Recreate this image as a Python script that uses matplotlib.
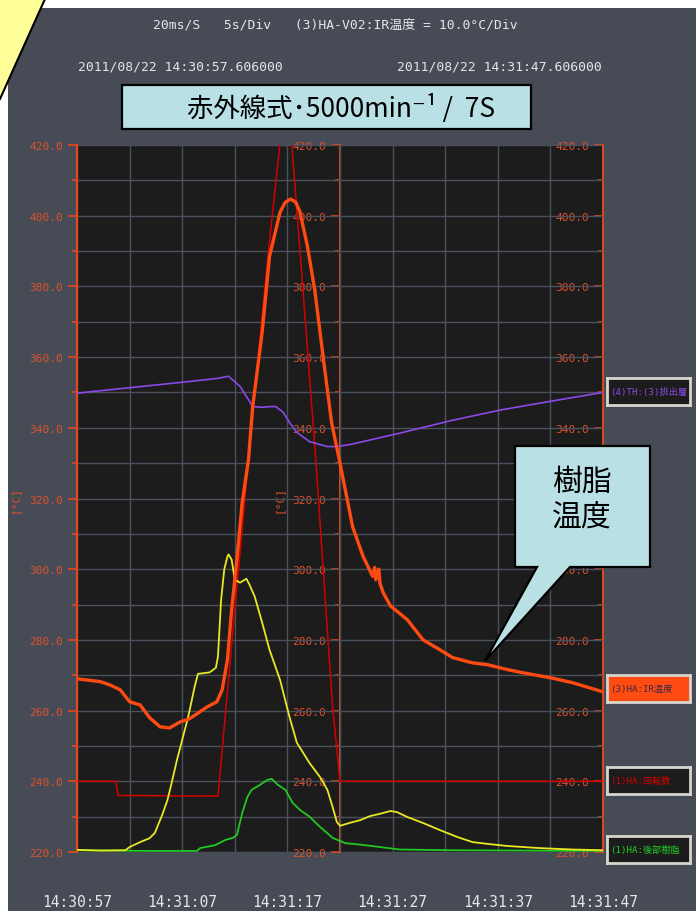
import matplotlib
matplotlib.use("Agg")
import matplotlib.pyplot as plt
from matplotlib.patches import Rectangle, Polygon
from matplotlib.ticker import MultipleLocator, NullFormatter
from matplotlib.transforms import Affine2D

# ---------------- data ----------------
time_label_pos = [0, 10, 20, 30, 40, 50]
time_labels = ["14:30:57", "14:31:07", "14:31:17", "14:31:27", "14:31:37", "14:31:47"]
y_major = [220, 240, 260, 280, 300, 320, 340, 360, 380, 400, 420]
hidden_right_labels = [320]   # covered by the callout in the reference

# (3) IR resin temperature
ir_t = [0, 2.2, 3.1, 4.1, 5.0, 6.0, 6.9, 7.9, 8.8, 9.8, 10.7, 11.7, 12.4, 13.3, 13.8, 14.3, 14.7,
        15.2, 15.7, 16.3, 16.7, 17.6, 18.3, 19.3, 19.8, 20.3, 20.8, 21.2, 21.9, 22.6, 23.4, 24.2,
        25.0, 26.2, 27.2, 28.1, 28.3, 28.4, 28.7, 28.8, 29.1, 29.8, 31.4, 32.9, 34.5, 35.7, 37.6,
        39.0, 40.9, 42.4, 45.0, 47.1, 50.0]
ir_v = [269.0, 268.2, 267.3, 265.9, 262.5, 261.6, 258.0, 255.4, 255.1, 256.8, 257.7, 259.7, 261.1,
        262.5, 265.9, 274.4, 288.6, 302.7, 318.8, 331.0, 346.0, 367.0, 388.5, 401.0, 403.8, 404.7,
        403.8, 401.0, 391.4, 379.0, 360.0, 341.5, 330.0, 312.0, 303.6, 298.0, 300.5, 297.0, 300.0,
        296.0, 293.4, 289.6, 285.7, 280.0, 277.2, 275.0, 273.5, 273.0, 271.6, 270.7, 269.3, 267.9,
        265.3]

# (1) rotation speed
rot_t = [0, 3.7, 3.9, 13.4, 16.3, 18.2, 19.3, 19.6, 19.9, 20.4, 21.2, 22.7, 23.4, 24.3, 25.0, 50.0]
rot_v = [240, 240, 236, 235.8, 331, 390, 420.5, 421.8, 421.5, 420.5, 390, 331, 300, 261, 240, 240]

# (4) discharge
dis_t = [0, 10.7, 13.4, 14.4, 15.5, 16.4, 16.7, 17.6, 18.3, 18.9, 19.6, 20.2, 20.9, 22.1, 23.8,
         24.7, 26.0, 26.9, 30.7, 35.5, 40.2, 45.0, 50.0]
dis_v = [349.8, 353.1, 354.0, 354.6, 351.7, 347.5, 346.0, 345.8, 346.0, 346.0, 344.4, 341.5, 338.7,
         336.1, 334.7, 334.7, 335.3, 335.9, 338.5, 342.0, 345.0, 347.5, 350.0]

# yellow trace
yel_t = [0, 2.2, 4.6, 5.0, 6.0, 6.9, 7.4, 8.1, 8.6, 9.0, 9.5, 10.0, 10.5, 10.7, 11.2, 11.5, 12.6,
         13.2, 13.4, 13.7, 14.0, 14.3, 14.4, 14.7, 15.0, 15.5, 16.1, 16.4, 16.9, 17.6, 18.3, 19.3,
         20.2, 20.9, 22.1, 23.1, 23.8, 24.3, 24.7, 25.0, 26.0, 26.9, 27.9, 28.8, 29.8, 30.4, 31.4,
         32.9, 34.5, 36.1, 37.6, 39.3, 40.9, 44.0, 47.1, 50.0]
yel_v = [220.6, 220.4, 220.5, 221.4, 222.8, 223.9, 225.4, 230.5, 234.7, 239.6, 246.0, 251.7, 257.4,
         260.0, 267.0, 270.4, 270.8, 272.1, 275.3, 291.4, 300.0, 303.6, 304.2, 302.7, 297.0, 296.2,
         297.3, 295.6, 292.2, 284.9, 277.2, 268.7, 258.2, 250.9, 245.2, 241.2, 237.6, 232.7, 228.5,
         227.4, 228.3, 229.0, 230.2, 230.8, 231.6, 231.3, 229.9, 228.2, 226.2, 224.3, 222.8, 222.2,
         221.7, 221.1, 220.7, 220.5]

# (1) rear resin temperature (green)
grn_t = [0, 6.9, 11.4, 11.7, 13.1, 14.1, 14.8, 15.2, 15.7, 16.2, 16.6, 17.4, 18.1, 18.5, 19.1,
         19.8, 20.5, 21.2, 22.1, 23.1, 24.3, 25.5, 26.9, 28.8, 30.7, 35.5, 50.0]
grn_v = [220.5, 220.3, 220.3, 221.1, 221.9, 223.4, 224.0, 224.8, 231.0, 235.6, 237.6, 239.0, 240.4,
         240.7, 239.0, 237.6, 233.9, 231.9, 230.0, 227.1, 224.0, 222.5, 222.1, 221.4, 220.7, 220.5,
         220.3]

legend_labels = ["(4)TH:(3)排出層", "(3)HA:IR温度", "(1)HA:回転数", "(1)HA:後部樹脂"]
header_text = "20ms/S   5s/Div   (3)HA-V02:IR温度 = 10.0°C/Div"
start_text = "2011/08/22 14:30:57.606000"
end_text = "2011/08/22 14:31:47.606000"
title_text = "赤外線式･5000min⁻¹ /  7S"
callout_text = "樹脂\n温度"

# ---------------- style ----------------
W, H = 696, 912
MONO = ["DejaVu Sans Mono", "Noto Sans CJK JP"]
JP = ["Noto Sans CJK JP", "DejaVu Sans"]
plt.rcParams["font.family"] = MONO

PANEL = "#464b56"
PLOTBG = "#1c1c1c"
GRID = "#4b505c"
AXC = "#e2481a"
LBL = "#e0522c"
WHITE = "#e6e6e6"
CYAN = "#b9e0e4"

fig = plt.figure(figsize=(W / 100, H / 100), dpi=100, facecolor="white")
px = Affine2D().scale(1 / W, -1 / H).translate(0, 1) + fig.transFigure

# grey panel
fig.add_artist(Rectangle((8, 9), W - 8, H - 9, transform=px, facecolor=PANEL,
                         edgecolor="none", zorder=-10))

ax = fig.add_axes([77 / W, 1 - 853 / H, 526 / W, 707 / H])
ax.set_facecolor(PLOTBG)
ax.set_xlim(0, 50)
ax.set_ylim(220, 420)

ax.plot(rot_t, rot_v, color="#d40000", lw=1.1, zorder=3)
ax.plot(dis_t, dis_v, color="#8a4ae8", lw=1.2, zorder=3)
ax.plot(grn_t, grn_v, color="#22c822", lw=1.3, zorder=3)
ax.plot(yel_t, yel_v, color="#e8e824", lw=1.3, zorder=3)
ax.plot(ir_t, ir_v, color="#ff4a12", lw=2.4, zorder=4)

ax.set_xticks(time_label_pos, labels=time_labels)
ax.xaxis.set_minor_locator(MultipleLocator(5))
ax.set_yticks(y_major, labels=[f"{v:.1f}" for v in y_major])
ax.yaxis.set_minor_locator(MultipleLocator(10))
ax.grid(which="both", color=GRID, lw=1)
ax.set_axisbelow(True)
ax.tick_params(axis="x", which="both", length=0, labelcolor=WHITE, labelsize=10.5, pad=30)
ax.tick_params(axis="y", which="major", direction="out", length=6.5, width=1.2, color=AXC,
               labelcolor=LBL, labelsize=8, pad=3.5)
ax.tick_params(axis="y", which="minor", direction="out", length=3.5, width=1.2, color=AXC)
for s in ["top", "bottom", "right"]:
    ax.spines[s].set_visible(False)
ax.spines["left"].set_color(AXC)
ax.spines["left"].set_linewidth(1.5)
ax.set_ylabel("[°C]", color=LBL, fontsize=8, labelpad=7)

for loc in (0.5, 1.0):
    sec = ax.secondary_yaxis(loc)
    sec.set_alignment("left")
    if loc == 1.0:
        labs = ["" if v in hidden_right_labels else f"{v:.1f}" for v in y_major]
    else:
        labs = [f"{v:.1f}" for v in y_major]
    sec.set_yticks(y_major, labels=labs)
    sec.yaxis.set_minor_locator(MultipleLocator(10))
    sec.yaxis.set_minor_formatter(NullFormatter())
    sec.tick_params(axis="y", which="major", direction="out", length=6.5, width=1.2, color=AXC,
                    labelcolor=LBL, labelsize=8, pad=3.5)
    sec.tick_params(axis="y", which="minor", direction="out", length=3.5, width=1.2, color=AXC)
    sec.spines["left"].set_color(AXC)
    sec.spines["left"].set_linewidth(1.5)
    if loc == 0.5:
        sec.set_ylabel("[°C]", color=LBL, fontsize=8, labelpad=6)

# header texts
fig.text(153, 25, header_text, transform=px, color=WHITE, fontsize=9.4, va="center", ha="left",
         family=MONO)
fig.text(78, 67, start_text, transform=px, color=WHITE, fontsize=9.4, va="center", ha="left",
         family=MONO)
fig.text(397, 67, end_text, transform=px, color=WHITE, fontsize=9.4, va="center", ha="left",
         family=MONO)

# title box
fig.add_artist(Rectangle((122, 86), 409, 44, transform=px, facecolor=CYAN, edgecolor="black",
                         lw=1.6, zorder=5))
fig.text(341, 108, title_text, transform=px, color="black", fontsize=19, va="center",
         ha="center", family=JP, zorder=6)

# legend boxes on the right
boxes = [(379, "#1c1c1c", "#8a4ae8"), (676, "#ff4a12", "#3c2a48"),
         (768, "#1c1c1c", "#d40000"), (837, "#1c1c1c", "#22d022")]
for (y0, fc, tc), lab in zip(boxes, legend_labels):
    bax = fig.add_axes([607 / W, 1 - (y0 + 27) / H, 83 / W, 27 / H])
    bax.set_facecolor(fc)
    bax.set_xticks([])
    bax.set_yticks([])
    for s in bax.spines.values():
        s.set_color("#d6d6ce")
        s.set_linewidth(2)
    bax.text(0.04, 0.5, lab, transform=bax.transAxes, color=tc, fontsize=6.6, va="center",
             ha="left", clip_on=True, family=MONO)

# callout "樹脂温度"
callout = [(515, 447), (650, 447), (650, 568), (570, 568), (485, 662), (537, 568), (515, 568)]
fig.add_artist(Polygon(callout, closed=True, transform=px, facecolor=CYAN, edgecolor="black",
                       lw=1.6, zorder=7))
fig.text(582, 500, callout_text, transform=px, color="black", fontsize=21.5, va="center",
         ha="center", family=JP, linespacing=1.2, zorder=8)

# yellow corner shape
fig.add_artist(Polygon([(0, 0), (45, 0), (0, 100)], closed=True, transform=px,
                       facecolor="#ffff99", edgecolor="none", zorder=9))
fig.add_artist(plt.Line2D([45, 0], [0, 100], transform=px, color="black", lw=1.5, zorder=10))

fig.savefig("out.png", dpi=100, facecolor="white")
